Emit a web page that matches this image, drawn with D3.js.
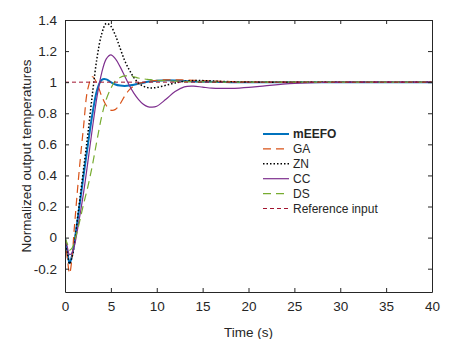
<!doctype html>
<html lang="en">
<head>
  <meta charset="UTF-8">
  <title>Normalized output temperatures</title>
  <script src="https://cdn.jsdelivr.net/npm/d3@7"></script>
  <style>
    body { margin: 0; background: white; }
    text { font-family: "Liberation Sans", Arial, sans-serif; fill: #262626; }
  </style>
</head>
<body>
<div id="container"></div>
<script type="text/javascript">
// time samples (s), shared by all series
var time = [0, 0.25, 0.5, 0.75, 1, 1.5, 2, 2.5, 3, 3.5, 4, 4.5, 5, 5.5, 6, 6.5, 7, 7.5, 8, 8.5,
            9, 9.5, 10, 11, 12, 13, 14, 15, 16, 17, 18, 19, 20, 22, 25, 28, 32, 36, 40];

var mEEFO = [0, -0.09, -0.165, -0.12, -0.04, 0.17, 0.39, 0.6, 0.8, 0.95,
             1.015, 1.018, 1.0, 0.985, 0.978, 0.976, 0.978, 0.984, 0.99, 0.996,
             1.002, 1.006, 1.009, 1.012, 1.011, 1.008, 1.005, 1.003, 1.002, 1.001,
             1, 1, 1, 1, 1, 1, 1, 1, 1];
var GA = [0, -0.13, -0.23, -0.14, 0.05, 0.4, 0.7, 0.96, 1.035, 0.99,
          0.91, 0.85, 0.82, 0.825, 0.86, 0.91, 0.95, 0.975, 0.99, 0.998,
          1.004, 1.008, 1.012, 1.015, 1.015, 1.014, 1.012, 1.01, 1.008, 1.006,
          1.004, 1.003, 1.002, 1.001, 1, 1, 1, 1, 1];
var ZN = [0, -0.09, -0.17, -0.13, -0.05, 0.19, 0.43, 0.67, 0.93, 1.16,
          1.31, 1.378, 1.36, 1.3, 1.22, 1.14, 1.08, 1.03, 0.995, 0.975,
          0.965, 0.963, 0.966, 0.98, 0.995, 1.005, 1.01, 1.01, 1.008, 1.005,
          1.003, 1.002, 1.001, 1, 1, 1, 1, 1, 1];
var CC = [0, -0.06, -0.11, -0.1, -0.06, 0.1, 0.28, 0.49, 0.71, 0.91,
          1.06, 1.15, 1.176, 1.15, 1.1, 1.04, 0.98, 0.93, 0.89, 0.86,
          0.843, 0.839, 0.845, 0.89, 0.94, 0.97, 0.974, 0.968, 0.962, 0.96,
          0.96, 0.962, 0.966, 0.978, 0.992, 0.998, 1, 1, 1];
var DS = [0, -0.04, -0.08, -0.07, -0.03, 0.08, 0.21, 0.33, 0.47, 0.63,
          0.78, 0.89, 0.96, 1.01, 1.03, 1.04, 1.04, 1.035, 1.027, 1.022,
          1.018, 1.015, 1.012, 1.009, 1.006, 1.004, 1.003, 1.002, 1.001, 1,
          1, 1, 1, 1, 1, 1, 1, 1, 1];
var refTime = [0, 40];
var refInput = [1, 1];

var xTicks = [0, 5, 10, 15, 20, 25, 30, 35, 40];
var yTicks = [-0.2, 0, 0.2, 0.4, 0.6, 0.8, 1, 1.2, 1.4];

var series = [
  {name: 'mEEFO', t: time, y: mEEFO, color: '#0072BD', width: 2, dash: null, bold: true},
  {name: 'GA', t: time, y: GA, color: '#D95319', width: 1.2, dash: '8,5'},
  {name: 'ZN', t: time, y: ZN, color: '#000000', width: 1.5, dash: '1.5,2'},
  {name: 'CC', t: time, y: CC, color: '#7E2F8E', width: 1.2, dash: null},
  {name: 'DS', t: time, y: DS, color: '#77AC30', width: 1.2, dash: '8,5'},
  {name: 'Reference input', t: refTime, y: refInput, color: '#A2142F', width: 1, dash: '4,3'}
];

var W = 455, H = 339;
var margin = {top: 20, right: 23, bottom: 47, left: 65};

var svg = d3.select('#container').append('svg')
  .attr('width', W)
  .attr('height', H);

var x = d3.scaleLinear().domain([0, 40]).range([margin.left, W - margin.right]);
var y = d3.scaleLinear().domain([-0.35, 1.4]).range([H - margin.bottom, margin.top]);

var fmt = function(d) { return String(+d.toFixed(1)); };

// lines first, axes box drawn on top
var line = d3.line()
  .x(function(d) { return x(d[0]); })
  .y(function(d) { return y(d[1]); })
  .curve(d3.curveCatmullRom.alpha(0.5));

svg.append('defs').append('clipPath').attr('id', 'clip')
  .append('rect')
  .attr('x', x(0)).attr('y', y(1.4))
  .attr('width', x(40) - x(0)).attr('height', y(-0.35) - y(1.4));

svg.append('g').attr('clip-path', 'url(#clip)')
  .selectAll('path').data(series).enter()
  .append('path')
  .attr('fill', 'none')
  .attr('stroke', function(s) { return s.color; })
  .attr('stroke-width', function(s) { return s.width; })
  .attr('stroke-dasharray', function(s) { return s.dash; })
  .attr('d', function(s) { return line(s.t.map(function(t, i) { return [t, s.y[i]]; })); });

// axes with inward ticks, mirrored on top and right
function styleAxis(g) {
  g.select('.domain').attr('stroke', '#262626');
  g.selectAll('.tick line').attr('stroke', '#262626');
  g.selectAll('.tick text').style('font-size', '13.5px').attr('fill', '#262626');
}

svg.append('g')
  .attr('transform', 'translate(0,' + (H - margin.bottom) + ')')
  .call(d3.axisBottom(x).tickValues(xTicks).tickFormat(fmt).tickSizeInner(-4).tickSizeOuter(0).tickPadding(9))
  .call(styleAxis);
svg.append('g')
  .attr('transform', 'translate(0,' + margin.top + ')')
  .call(d3.axisTop(x).tickValues(xTicks).tickFormat('').tickSizeInner(-4).tickSizeOuter(0))
  .call(styleAxis);
svg.append('g')
  .attr('transform', 'translate(' + margin.left + ',0)')
  .call(d3.axisLeft(y).tickValues(yTicks).tickFormat(fmt).tickSizeInner(-4).tickSizeOuter(0).tickPadding(8))
  .call(styleAxis);
svg.append('g')
  .attr('transform', 'translate(' + (W - margin.right) + ',0)')
  .call(d3.axisRight(y).tickValues(yTicks).tickFormat('').tickSizeInner(-4).tickSizeOuter(0))
  .call(styleAxis);

svg.selectAll('.domain').attr('fill', 'none');

// axis titles
svg.append('text')
  .attr('x', (x(0) + x(40)) / 2)
  .attr('y', 337)
  .attr('text-anchor', 'middle')
  .style('font-size', '13.5px')
  .text('Time (s)');

svg.append('text')
  .attr('transform', 'translate(31,' + ((y(1.4) + y(-0.35)) / 2) + ') rotate(-90)')
  .attr('text-anchor', 'middle')
  .style('font-size', '13.5px')
  .text('Normalized output temperatures');

// legend, no box
var legend = svg.append('g').attr('transform', 'translate(263,134)');
var item = legend.selectAll('g').data(series).enter()
  .append('g')
  .attr('transform', function(s, i) { return 'translate(0,' + (i * 14.9) + ')'; });
item.append('line')
  .attr('x1', 0).attr('x2', 26).attr('y1', 0).attr('y2', 0)
  .attr('stroke', function(s) { return s.color; })
  .attr('stroke-width', function(s) { return s.width; })
  .attr('stroke-dasharray', function(s) { return s.dash; });
item.append('text')
  .attr('x', 30)
  .attr('dy', '0.35em')
  .style('font-size', '12px')
  .style('font-weight', function(s) { return s.bold ? 'bold' : 'normal'; })
  .text(function(s) { return s.name; });
</script>
</body>
</html>
